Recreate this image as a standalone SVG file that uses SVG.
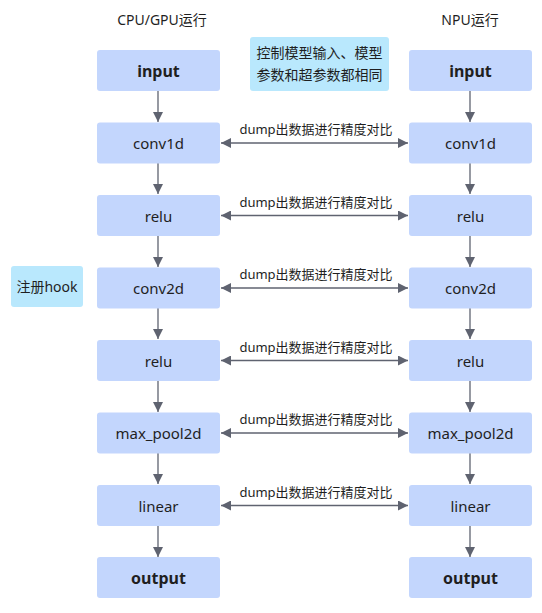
<svg xmlns="http://www.w3.org/2000/svg" width="542" height="613" viewBox="0 0 542 613">
<style>
text{font-family:"Noto Sans","Noto Sans CJK SC",sans-serif;fill:#1f1f1f}
.n rect{fill:#c3d6fd;stroke:none}
.n text{font-size:15px;text-anchor:middle;dominant-baseline:central}
.b text{font-size:16px;font-weight:bold}
.c rect{fill:#b9e8fd}
.c text{font-size:14px;text-anchor:middle;dominant-baseline:central}
.t{font-size:14px;text-anchor:middle}
.l{font-size:13px;text-anchor:middle}
.e line{stroke:#5f6370;stroke-width:1.3}
</style>
<defs>
<marker id="ah" viewBox="0 0 10 10" refX="10" refY="5" markerWidth="10" markerHeight="10" markerUnits="userSpaceOnUse" orient="auto-start-reverse">
<path d="M0,0L10,5L0,10z" fill="#5f6370"/>
</marker>
</defs>
<text class="t" x="162" y="25">CPU/GPU运行</text>
<text class="t" x="470" y="25">NPU运行</text>
<g class="e">
<line x1="158" y1="91" x2="158" y2="122" marker-end="url(#ah)"/>
<line x1="158" y1="163" x2="158" y2="194" marker-end="url(#ah)"/>
<line x1="158" y1="236" x2="158" y2="267" marker-end="url(#ah)"/>
<line x1="158" y1="308" x2="158" y2="339" marker-end="url(#ah)"/>
<line x1="158" y1="381" x2="158" y2="412" marker-end="url(#ah)"/>
<line x1="158" y1="453" x2="158" y2="484" marker-end="url(#ah)"/>
<line x1="158" y1="526" x2="158" y2="557" marker-end="url(#ah)"/>
<line x1="470" y1="91" x2="470" y2="122" marker-end="url(#ah)"/>
<line x1="470" y1="163" x2="470" y2="194" marker-end="url(#ah)"/>
<line x1="470" y1="236" x2="470" y2="267" marker-end="url(#ah)"/>
<line x1="470" y1="308" x2="470" y2="339" marker-end="url(#ah)"/>
<line x1="470" y1="381" x2="470" y2="412" marker-end="url(#ah)"/>
<line x1="470" y1="453" x2="470" y2="484" marker-end="url(#ah)"/>
<line x1="470" y1="526" x2="470" y2="557" marker-end="url(#ah)"/>
<line x1="221" y1="143" x2="408" y2="143" marker-start="url(#ah)" marker-end="url(#ah)"/>
<line x1="221" y1="215.5" x2="408" y2="215.5" marker-start="url(#ah)" marker-end="url(#ah)"/>
<line x1="221" y1="288" x2="408" y2="288" marker-start="url(#ah)" marker-end="url(#ah)"/>
<line x1="221" y1="360.5" x2="408" y2="360.5" marker-start="url(#ah)" marker-end="url(#ah)"/>
<line x1="221" y1="433" x2="408" y2="433" marker-start="url(#ah)" marker-end="url(#ah)"/>
<line x1="221" y1="505.5" x2="408" y2="505.5" marker-start="url(#ah)" marker-end="url(#ah)"/>
</g>
<g class="l-group">
<text class="l" x="316" y="134">dump出数据进行精度对比</text>
<text class="l" x="316" y="206.5">dump出数据进行精度对比</text>
<text class="l" x="316" y="279">dump出数据进行精度对比</text>
<text class="l" x="316" y="351.5">dump出数据进行精度对比</text>
<text class="l" x="316" y="424">dump出数据进行精度对比</text>
<text class="l" x="316" y="496.5">dump出数据进行精度对比</text>
</g>
<g id="note" class="c"><rect x="250" y="37" width="139" height="54" rx="3"/><text x="319.5" y="52">控制模型输入、模型</text><text x="319.5" y="74">参数和超参数都相同</text></g>
<g id="hook" class="c"><rect x="11" y="266" width="72" height="41" rx="3"/><text x="47" y="286.5">注册hook</text></g>
<g id="l-input" class="n b"><rect x="97" y="50" width="123" height="41" rx="3"/><text x="158.5" y="70.5">input</text></g>
<g id="l-conv1d" class="n"><rect x="97" y="122.5" width="123" height="41" rx="3"/><text x="158.5" y="143">conv1d</text></g>
<g id="l-relu1" class="n"><rect x="97" y="195" width="123" height="41" rx="3"/><text x="158.5" y="215.5">relu</text></g>
<g id="l-conv2d" class="n"><rect x="97" y="267.5" width="123" height="41" rx="3"/><text x="158.5" y="288">conv2d</text></g>
<g id="l-relu2" class="n"><rect x="97" y="340" width="123" height="41" rx="3"/><text x="158.5" y="360.5">relu</text></g>
<g id="l-maxpool" class="n"><rect x="97" y="412.5" width="123" height="41" rx="3"/><text x="158.5" y="433">max_pool2d</text></g>
<g id="l-linear" class="n"><rect x="97" y="485" width="123" height="41" rx="3"/><text x="158.5" y="505.5">linear</text></g>
<g id="l-output" class="n b"><rect x="97" y="557" width="123" height="41" rx="3"/><text x="158.5" y="577.5">output</text></g>
<g id="r-input" class="n b"><rect x="409" y="50" width="123" height="41" rx="3"/><text x="470.5" y="70.5">input</text></g>
<g id="r-conv1d" class="n"><rect x="409" y="122.5" width="123" height="41" rx="3"/><text x="470.5" y="143">conv1d</text></g>
<g id="r-relu1" class="n"><rect x="409" y="195" width="123" height="41" rx="3"/><text x="470.5" y="215.5">relu</text></g>
<g id="r-conv2d" class="n"><rect x="409" y="267.5" width="123" height="41" rx="3"/><text x="470.5" y="288">conv2d</text></g>
<g id="r-relu2" class="n"><rect x="409" y="340" width="123" height="41" rx="3"/><text x="470.5" y="360.5">relu</text></g>
<g id="r-maxpool" class="n"><rect x="409" y="412.5" width="123" height="41" rx="3"/><text x="470.5" y="433">max_pool2d</text></g>
<g id="r-linear" class="n"><rect x="409" y="485" width="123" height="41" rx="3"/><text x="470.5" y="505.5">linear</text></g>
<g id="r-output" class="n b"><rect x="409" y="557" width="123" height="41" rx="3"/><text x="470.5" y="577.5">output</text></g>
</svg>
